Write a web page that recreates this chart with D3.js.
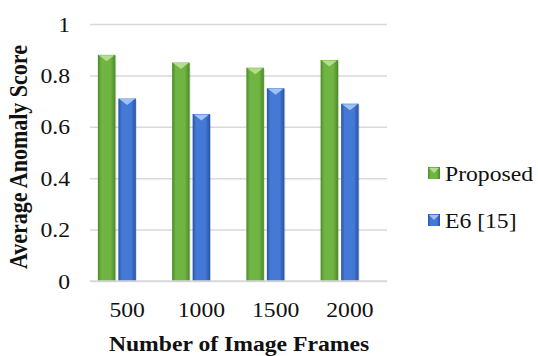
<!DOCTYPE html>
<html>
<head>
<meta charset="utf-8">
<script src="https://cdn.jsdelivr.net/npm/d3@7"></script>
<style>
  html, body { margin: 0; padding: 0; background: #fff; }
  svg text { font-family: "Liberation Serif", "Times New Roman", Times, serif; }
</style>
</head>
<body>
<svg id="chart" width="538" height="356"></svg>
<script>
// Chart data
const categories = ["500", "1000", "1500", "2000"];
const seriesNames = ["Proposed", "E6 [15]"];
const proposedValues = [0.88, 0.85, 0.83, 0.86];
const e6Values = [0.71, 0.65, 0.75, 0.69];
const yTicks = [0, 0.2, 0.4, 0.6, 0.8, 1];
const yTickLabels = ["0", "0.2", "0.4", "0.6", "0.8", "1"];

const seriesValues = [proposedValues, e6Values];
const palette = [
  { dark: "#4a8a24", mid: "#70b443", cap: "#b2de8e" },
  { dark: "#2853a8", mid: "#4479d6", cap: "#a0c2f2" }
];

const FONT = 21.5;   // text size
const SX = 1.1;      // text is drawn slightly wide

const svg = d3.select("#chart");
const margin = { left: 90, right: 151, top: 24, bottom: 75 };
const width = 538, height = 356;
const x0 = margin.left, x1 = width - margin.right;
const yTop = margin.top, yBot = height - margin.bottom;

const x = d3.scaleBand().domain(categories).range([x0, x1]).paddingInner(0).paddingOuter(0);
// three slots per category; the last one is left empty, so each pair sits left of centre
const xSub = d3.scaleBand().domain([0, 1, 2]).range([0, x.bandwidth()]).paddingInner(0.146).paddingOuter(0.384);
const y = d3.scaleLinear().domain([0, 1]).range([yBot, yTop]);

// gradients for the bevelled bars
const defs = svg.append("defs");
palette.forEach((p, i) => {
  const g = defs.append("linearGradient").attr("id", "grad" + i)
    .attr("x1", "0%").attr("x2", "100%").attr("y1", "0%").attr("y2", "0%");
  g.append("stop").attr("offset", "0%").attr("stop-color", p.dark);
  g.append("stop").attr("offset", "20%").attr("stop-color", p.mid);
  g.append("stop").attr("offset", "72%").attr("stop-color", p.mid);
  g.append("stop").attr("offset", "100%").attr("stop-color", p.dark);
});

// helper: horizontally stretched text at (tx, ty)
function label(parent, tx, ty, str, opts = {}) {
  return parent.append("text")
    .attr("transform", `translate(${tx},${ty}) scale(${SX},1)`)
    .attr("text-anchor", opts.anchor || "start")
    .attr("font-weight", opts.bold ? "bold" : null)
    .attr("font-size", FONT).attr("fill", "#111")
    .text(str);
}

// gridlines
const gridAxis = d3.axisLeft(y).tickValues(yTicks).tickSize(-(x1 - x0)).tickFormat("");
const yg = svg.append("g").attr("transform", `translate(${x0},0)`).call(gridAxis);
yg.select(".domain").remove();
yg.selectAll(".tick line").attr("stroke", "#d9d9d9").attr("stroke-width", 1.5);

// y tick labels
yTicks.forEach((v, i) => label(svg, x0 - 20, y(v) + 7.5, yTickLabels[i], { anchor: "end" }));

// bars
seriesValues.forEach((vals, si) => {
  const grp = svg.append("g");
  const bw = xSub.bandwidth();
  categories.forEach((c, ci) => {
    const bx = x(c) + xSub(si);
    const by = y(vals[ci]);
    grp.append("rect")
      .attr("x", bx + 1).attr("y", by + 1).attr("width", bw).attr("height", yBot - by)
      .attr("fill", "#000").attr("opacity", 0.12);
    grp.append("rect")
      .attr("x", bx).attr("y", by).attr("width", bw).attr("height", yBot - by)
      .attr("fill", `url(#grad${si})`);
    grp.append("path")
      .attr("d", `M${bx + 1},${by + 0.5} L${bx + bw - 1},${by + 0.5} L${bx + bw / 2},${by + 6.5} Z`)
      .attr("fill", palette[si].cap);
  });
});

// baseline
svg.append("line").attr("x1", x0).attr("x2", x1).attr("y1", yBot).attr("y2", yBot)
  .attr("stroke", "#d9d9d9").attr("stroke-width", 1.5);

// category labels
categories.forEach(c => label(svg, x(c) + x.bandwidth() / 2, 316.5, c, { anchor: "middle" }));

// axis titles
label(svg, (x0 + x1) / 2 + 0.5, 351, "Number of Image Frames", { anchor: "middle", bold: true });
svg.append("text")
  .attr("transform", `translate(27,157) scale(${SX},1) rotate(-90)`)
  .attr("text-anchor", "middle").attr("font-weight", "bold").attr("font-size", 22)
  .attr("fill", "#111").text("Average Anomaly Score");

// legend
const legend = svg.append("g");
seriesNames.forEach((name, i) => {
  const ly = 173 + i * 47;
  legend.append("rect").attr("x", 428).attr("y", ly - 6).attr("width", 12).attr("height", 12)
    .attr("fill", `url(#grad${i})`);
  legend.append("path").attr("d", `M429,${ly - 5} L439,${ly - 5} L434,${ly} Z`).attr("fill", palette[i].cap);
  label(legend, 445, ly + 7.5, name);
});
</script>
</body>
</html>
